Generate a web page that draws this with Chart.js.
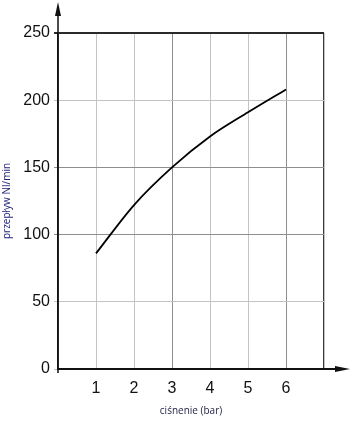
<!DOCTYPE html>
<html>
<head>
<meta charset="utf-8">
<title>przepływ Nl/min</title>
<script src="https://cdn.jsdelivr.net/npm/chart.js@4"></script>
<style>
  html, body { margin:0; padding:0; background:#fff; }
  #wrap { width:360px; height:423px; }
</style>
</head>
<body>
<div id="wrap"><canvas id="chartPrzeplyw" width="360" height="423"></canvas></div>
<script>
/* ========== DANE ========== */

const cisnienie = [1, 2, 3, 4, 5, 6];            // bar
const przeplyw  = [86, 122, 150, 173, 191, 208]; // Nl/min
const yTicks    = [0, 50, 100, 150, 200, 250];
const xMin = 0, xMax = 7;

/* ========== HELPERS ========== */

const FONT = "'Liberation Sans', Arial, sans-serif";

// kolory linii siatki (ciemniejsze / jaśniejsze jak w oryginale)
function xGridColor(v){
  if(v === xMax) return '#3a3a3a';
  if(v === 3 || v === 6) return '#8e8e8e';
  return '#c4c4c4';
}
function yGridColor(v){
  if(v === 250) return '#2a2a2a';
  if(v === 100 || v === 150) return '#8e8e8e';
  return '#c8c0c8';
}

/* strzałki na końcach osi */
const axisArrows = {
  id: 'axisArrows',
  afterDraw(chart){
    const { ctx, chartArea: a } = chart;
    ctx.save();
    ctx.strokeStyle = '#111';
    ctx.fillStyle = '#111';
    ctx.lineWidth = 1.5;
    // oś Y w górę
    ctx.beginPath();
    ctx.moveTo(a.left, a.bottom + 4);
    ctx.lineTo(a.left, 14);
    ctx.stroke();
    ctx.beginPath();
    ctx.moveTo(a.left, 2);
    ctx.lineTo(a.left - 3, 16);
    ctx.lineTo(a.left + 3, 16);
    ctx.closePath();
    ctx.fill();
    // oś X w prawo
    ctx.lineWidth = 2;
    ctx.beginPath();
    ctx.moveTo(a.right, a.bottom);
    ctx.lineTo(337, a.bottom);
    ctx.stroke();
    ctx.beginPath();
    ctx.moveTo(350, a.bottom);
    ctx.lineTo(335, a.bottom - 3);
    ctx.lineTo(335, a.bottom + 3);
    ctx.closePath();
    ctx.fill();
    ctx.restore();
  }
};

/* ========== WYKRES ========== */

const ctx = document.getElementById('chartPrzeplyw').getContext('2d');
const chartPrzeplyw = new Chart(ctx, {
  type: 'line',
  data: {
    datasets: [{
      label: 'przepływ',
      data: cisnienie.map((x, i) => ({ x: x, y: przeplyw[i] })),
      borderColor: '#000',
      borderWidth: 1.8,
      pointRadius: 0,
      fill: false,
      cubicInterpolationMode: 'monotone'
    }]
  },
  options: {
    responsive: false,
    animation: false,
    layout: { padding: { left: 0, top: 33, right: 36, bottom: 0 } },
    plugins: { legend: { display: false }, tooltip: { enabled: false } },
    scales: {
      x: {
        type: 'linear',
        min: xMin, max: xMax,
        afterFit: s => { s.height = 54; },
        ticks: {
          stepSize: 1,
          padding: 10,
          color: '#111',
          font: { family: FONT, size: 16 },
          callback: v => (v === xMin || v === xMax) ? '' : v
        },
        grid: {
          drawTicks: false,
          lineWidth: c => c.tick && c.tick.value === xMax ? 1.3 : 1,
          color: c => xGridColor(c.tick ? c.tick.value : 0)
        },
        border: { display: true, color: '#111', width: 2 },
        title: {
          display: true,
          text: 'ciśnenie (bar)',
          color: '#24244a',
          font: { family: "'Open Sans', sans-serif", size: 10 },
          padding: { top: 2, bottom: 6 }
        }
      },
      y: {
        min: 0, max: 250,
        afterFit: s => { s.width = 58; },
        afterBuildTicks: s => { s.ticks = yTicks.map(v => ({ value: v })); },
        ticks: {
          padding: 4,
          color: '#111',
          font: { family: FONT, size: 16 }
        },
        grid: {
          tickLength: 4,
          lineWidth: c => c.tick && c.tick.value === 250 ? 2 : 1,
          color: c => yGridColor(c.tick ? c.tick.value : 0)
        },
        border: { display: true, color: '#111', width: 1.5 },
        title: {
          display: true,
          text: 'przepływ Nl/min',
          color: '#22227a',
          font: { family: "'Open Sans', sans-serif", size: 10 },
          padding: { top: 1, bottom: 0 }
        }
      }
    }
  },
  plugins: [axisArrows]
});
</script>
</body>
</html>
